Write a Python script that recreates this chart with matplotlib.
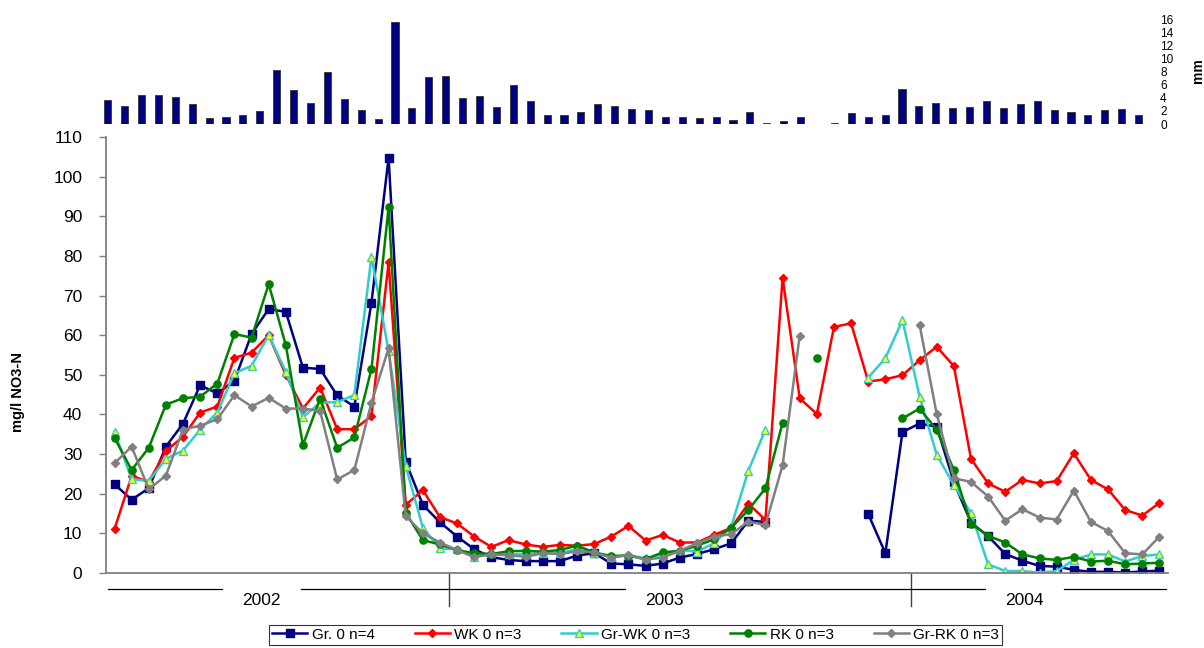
import numpy as np
import matplotlib
matplotlib.use('Agg')
from matplotlib import pyplot as plt

plt.rcParams['font.family'] = ['Liberation Sans', 'DejaVu Sans']

nan = np.nan

# Niederschlag je Termin (mm)
rain = [3.7, 2.8, 4.35, 4.5, 4.05, 3.05, 0.95, 1.05, 1.3, 1.95,
        8.3, 5.2, 3.15, 8.0, 3.8, 2.1, 0.8, 15.6, 2.5, 7.15,
        7.3, 3.95, 4.2, 2.65, 5.9, 3.5, 1.4, 1.4, 1.8, 3.05,
        2.75, 2.25, 2.15, 1.1, 1.1, 0.85, 1.0, 0.55, 1.85, 0.2,
        0.4, 1.0, nan, 0.15, 1.65, 1.1, 1.3, 5.3, 2.8, 3.2,
        2.5, 2.65, 3.5, 2.5, 3.0, 3.5, 2.2, 1.9, 1.4, 2.2,
        2.35, 1.4]

# NO3-N (mg/l)
gr0 = [22.4, 18.5, 21.4, 31.9, 37.7, 47.4, 45.3, 48.5, 60.3, 66.6,
       65.9, 51.8, 51.5, 44.8, 42.0, 68.2, 104.8, 28.1, 17.2, 12.8,
       9.2, 6.0, 4.0, 3.3, 3.0, 3.0, 3.0, 4.4, 5.0, 2.4,
       2.2, 1.8, 2.4, 3.9, 4.8, 6.0, 7.5, 13.2, 12.9, nan,
       nan, nan, nan, nan, 14.9, 5.0, 35.6, 37.7, 36.9, 22.9,
       12.7, 9.3, 4.8, 3.1, 1.8, 1.6, 0.8, 0.3, 0.3, 0.1,
       0.4, 0.6]
wk = [11.1, 24.5, 23.0, 30.8, 34.4, 40.5, 42.0, 54.3, 55.6, 60.0,
      50.0, 41.5, 46.8, 36.3, 36.3, 39.6, 78.4, 17.2, 20.9, 14.1,
      12.5, 9.2, 6.6, 8.3, 7.2, 6.6, 7.1, 6.9, 7.3, 9.2,
      11.9, 8.2, 9.6, 7.7, 7.7, 9.6, 11.4, 17.5, 13.4, 74.5,
      44.1, 40.1, 62.1, 63.0, 48.3, 48.9, 49.9, 53.7, 57.1, 52.2,
      28.8, 22.6, 20.5, 23.5, 22.6, 23.2, 30.2, 23.5, 21.1, 15.9,
      14.5, 17.7]
grwk = [35.6, 23.7, 23.2, 28.8, 30.9, 36.2, 40.5, 50.4, 52.3, 60.0,
        50.8, 39.3, 43.0, 43.1, 44.9, 79.8, 56.0, 27.0, 11.4, 6.2,
        6.0, 4.1, 5.0, 4.7, 4.8, 5.0, 5.0, 6.0, 5.1, 4.1,
        4.5, 3.7, 4.7, 5.8, 5.4, 7.5, 11.7, 25.8, 36.2, nan,
        nan, nan, nan, nan, 49.3, 54.2, 63.8, 44.5, 29.8, 22.2,
        15.1, 2.2, 0.5, 0.5, 0.1, 0.5, 3.3, 4.7, 4.7, 2.9,
        4.3, 4.7]
rk = [34.1, 26.0, 31.6, 42.5, 44.1, 44.5, 47.8, 60.3, 59.4, 72.9,
      57.5, 32.3, 44.0, 31.6, 34.2, 51.5, 92.3, 15.2, 8.3, 7.2,
      5.8, 5.0, 4.8, 5.5, 5.6, 5.4, 5.8, 6.9, 5.2, 4.3,
      4.4, 3.5, 5.2, 5.6, 6.9, 8.5, 11.4, 15.9, 21.4, 37.9,
      nan, 54.3, nan, nan, nan, nan, 39.0, 41.5, 36.1, 26.0,
      12.4, 9.4, 7.7, 4.7, 3.7, 3.3, 4.1, 2.9, 3.1, 2.2,
      2.4, 2.6]
grrk = [27.7, 31.9, 21.1, 24.6, 36.2, 37.2, 38.8, 44.9, 42.0, 44.2,
        41.5, 41.5, 40.9, 23.6, 26.0, 43.0, 56.7, 14.4, 10.0, 7.7,
        5.8, 4.0, 4.7, 4.5, 4.1, 5.0, 4.8, 5.5, 5.2, 3.9,
        4.5, 3.4, 3.9, 5.6, 7.5, 9.2, 9.8, 13.0, 12.1, 27.2,
        59.9, nan, nan, nan, nan, nan, nan, 62.6, 40.1, 23.9,
        23.0, 19.3, 13.2, 16.1, 14.0, 13.5, 20.8, 12.9, 10.6, 5.0,
        4.7, 9.2]

labels = ['Gr. 0 n=4', 'WK 0 n=3', 'Gr-WK 0 n=3', 'RK 0 n=3', 'Gr-RK 0 n=3']

years = ['2002', '2003', '2004']
year_n = [20, 27, 15]

x = np.arange(len(gr0))

fig = plt.figure(figsize=(12.04, 6.48), dpi=100)

# --- Niederschlag oben ---
ax0 = fig.add_axes([0.0824, 0.8086, 0.8703, 0.1620])
ax0.bar(np.arange(len(rain)), rain, width=0.42, color='#000080',
        edgecolor='#333333', linewidth=0.6)
ax0.set_xlim(-0.5, len(rain) - 0.5)
ax0.set_ylim(0, 16)
ax0.set_yticks(range(0, 17, 2))
ax0.yaxis.tick_right()
ax0.tick_params(axis='y', length=0, pad=9.4, labelsize=8.5)
ax0.set_xticks([])
for s in ax0.spines.values():
    s.set_visible(False)
ax0.patch.set_alpha(0)
fig.text(0.995, 0.8904, 'mm', rotation=90, fontweight='bold', fontsize=10,
         ha='center', va='center')

# --- NO3-N Ganglinien ---
ax = fig.add_axes([0.0880, 0.1157, 0.8821, 0.6728])

styles = [
    dict(color='#000080', marker='s', ms=5.8, mfc='#000080', mec='#000080'),
    dict(color='#FF0000', marker='D', ms=3.8, mfc='#FF0000', mec='#FF0000'),
    dict(color='#33CCCC', marker='^', ms=6, mfc='#FFFF00', mec='#33CCCC', mew=1),
    dict(color='#008000', marker='o', ms=5.2, mfc='#008000', mec='#008000'),
    dict(color='#808080', marker='D', ms=4.2, mfc='#808080', mec='#808080'),
]
for ys, lab, st in zip([gr0, wk, grwk, rk, grrk], labels, styles):
    ax.plot(x, ys, lw=1.8, label=lab, **st)

ax.set_xlim(-0.5, len(x) - 0.5)
ax.set_ylim(0, 110)
ax.set_yticks(range(0, 111, 10))
ax.set_xticks([])
ax.tick_params(axis='y', direction='out', length=5, width=1, color='#808080',
               pad=12, labelsize=12.5)
for side in ['top', 'right']:
    ax.spines[side].set_visible(False)
for side in ['left', 'bottom']:
    ax.spines[side].set_color('#808080')
    ax.spines[side].set_linewidth(1.3)

fig.text(18 / 1204, (648 - 392) / 648, 'mg/l NO3-N', rotation=90,
         fontweight='bold', fontsize=10.5, ha='center', va='center')

# Jahresgruppen unter der x-Achse
trans = ax.get_xaxis_transform()
start = -0.5
for k, (yr, n) in enumerate(zip(years, year_n)):
    end = start + n
    xc = (start + end) / 2 - 0.9
    left = max(start, -0.38)
    right = min(end, len(x) - 0.6)
    ax.plot([left, xc - 2.3], [-0.037, -0.037], color='black', lw=0.9,
            transform=trans, clip_on=False)
    ax.plot([xc + 2.3, right], [-0.037, -0.037], color='black', lw=0.9,
            transform=trans, clip_on=False)
    ax.text(xc, -0.062, yr, transform=trans, ha='center', va='center',
            fontsize=12.5)
    if k < len(years) - 1:
        ax.plot([end, end], [0, -0.076], color='#404040', lw=1,
                transform=trans, clip_on=False)
    start = end

leg = fig.legend(loc='center', bbox_to_anchor=(0.528, 0.0205), ncol=5,
                 fontsize=11, frameon=True, fancybox=False, edgecolor='black',
                 handlelength=2.3, handletextpad=0.3, columnspacing=2.6,
                 borderpad=0.2, borderaxespad=0, numpoints=1)
leg.get_frame().set_linewidth(0.8)

fig.savefig('out.png', dpi=100)
